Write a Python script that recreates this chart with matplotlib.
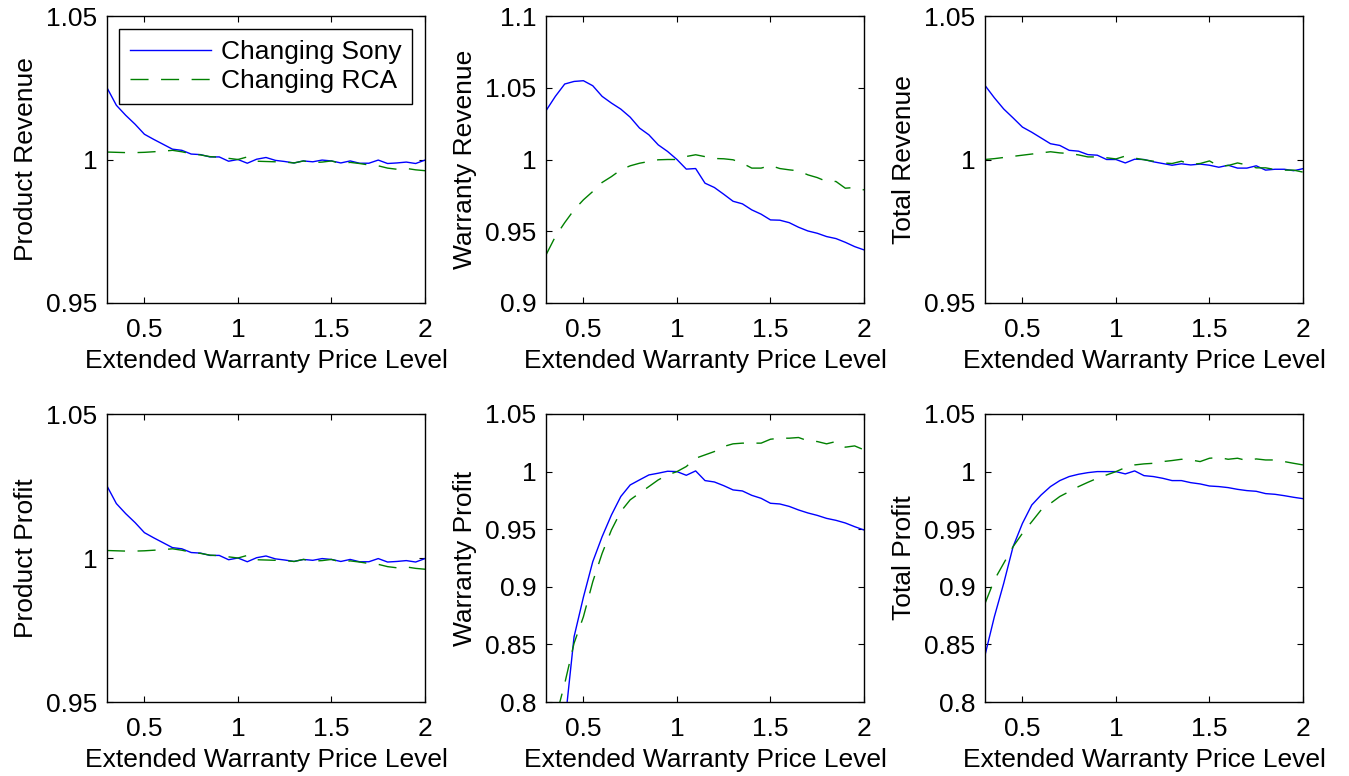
"""Six-panel comparison of revenue and profit against the extended warranty price level."""

import matplotlib

matplotlib.use("Agg")
import matplotlib.pyplot as plt
import numpy as np
from matplotlib.ticker import FuncFormatter

plt.rcParams["font.family"] = ["Liberation Sans", "DejaVu Sans"]

price_level = np.round(np.arange(0.30, 2.001, 0.05), 2)

product_revenue_sony = [
    1.0250, 1.0189, 1.0154, 1.0123, 1.0088, 1.0070, 1.0053, 1.0036, 1.0032, 1.0019,
    1.0017, 1.0009, 1.0009, 0.9994, 1.0000, 0.9987, 1.0001, 1.0007, 0.9997, 0.9993,
    0.9988, 0.9995, 0.9992, 0.9998, 0.9995, 0.9988, 0.9995, 0.9987, 0.9987, 0.9998,
    0.9986, 0.9988, 0.9991, 0.9986, 0.9998,
]
product_revenue_rca = [
    1.0026, 1.0025, 1.0024, 1.0024, 1.0025, 1.0027, 1.0029, 1.0032, 1.0027, 1.0020,
    1.0016, 1.0010, 1.0008, 1.0004, 1.0000, 1.0009, 0.9994, 0.9993, 0.9992, 0.9991,
    0.9988, 0.9995, 0.9989, 0.9991, 0.9995, 0.9986, 0.9990, 0.9986, 0.9981, 0.9978,
    0.9970, 0.9966, 0.9969, 0.9964, 0.9961,
]

warranty_revenue_sony = [
    1.0340, 1.0440, 1.0526, 1.0544, 1.0549, 1.0514, 1.0440, 1.0393, 1.0351, 1.0295,
    1.0219, 1.0172, 1.0102, 1.0056, 1.0000, 0.9933, 0.9937, 0.9835, 0.9805, 0.9758,
    0.9709, 0.9691, 0.9649, 0.9619, 0.9579, 0.9577, 0.9560, 0.9528, 0.9502, 0.9486,
    0.9463, 0.9449, 0.9423, 0.9393, 0.9370,
]
warranty_revenue_rca = [
    0.9335, 0.9463, 0.9560, 0.9649, 0.9719, 0.9777, 0.9840, 0.9881, 0.9928, 0.9956,
    0.9974, 0.9986, 0.9998, 1.0000, 1.0000, 1.0021, 1.0033, 1.0020, 1.0007, 1.0005,
    0.9998, 0.9974, 0.9940, 0.9940, 0.9958, 0.9937, 0.9928, 0.9921, 0.9893, 0.9874,
    0.9847, 0.9847, 0.9800, 0.9805, 0.9788,
]

total_revenue_sony = [
    1.0258, 1.0215, 1.0176, 1.0145, 1.0113, 1.0095, 1.0075, 1.0055, 1.0049, 1.0032,
    1.0029, 1.0017, 1.0015, 1.0000, 1.0000, 0.9988, 1.0001, 1.0000, 0.9992, 0.9986,
    0.9980, 0.9985, 0.9981, 0.9984, 0.9980, 0.9973, 0.9980, 0.9970, 0.9970, 0.9978,
    0.9963, 0.9966, 0.9966, 0.9961, 0.9968,
]
total_revenue_rca = [
    1.0000, 1.0003, 1.0007, 1.0011, 1.0015, 1.0019, 1.0023, 1.0027, 1.0023, 1.0021,
    1.0016, 1.0009, 1.0009, 1.0006, 1.0002, 1.0012, 1.0005, 0.9999, 0.9994, 0.9988,
    0.9986, 0.9994, 0.9983, 0.9986, 0.9995, 0.9977, 0.9979, 0.9988, 0.9981, 0.9971,
    0.9971, 0.9965, 0.9963, 0.9963, 0.9956,
]

# product profit tracks product revenue exactly in the source figure
product_profit_sony = list(product_revenue_sony)
product_profit_rca = list(product_revenue_rca)

warranty_profit_sony = [
    0.6200, 0.7000, 0.7800, 0.8566, 0.8910, 0.9218, 0.9435, 0.9624, 0.9784, 0.9884,
    0.9928, 0.9971, 0.9986, 1.0003, 1.0000, 0.9968, 1.0006, 0.9922, 0.9910, 0.9878,
    0.9841, 0.9832, 0.9794, 0.9768, 0.9725, 0.9719, 0.9698, 0.9667, 0.9641, 0.9620,
    0.9594, 0.9577, 0.9554, 0.9522, 0.9493,
]
warranty_profit_rca = [
    0.7400, 0.7850, 0.8160, 0.8510, 0.8740, 0.9044, 0.9290, 0.9494, 0.9654, 0.9755,
    0.9813, 0.9870, 0.9928, 0.9971, 1.0000, 1.0044, 1.0116, 1.0145, 1.0174, 1.0218,
    1.0241, 1.0247, 1.0247, 1.0247, 1.0281, 1.0290, 1.0290, 1.0296, 1.0267, 1.0261,
    1.0241, 1.0261, 1.0212, 1.0223, 1.0189,
]

total_profit_sony = [
    0.8406, 0.8740, 0.9030, 0.9348, 0.9550, 0.9710, 0.9797, 0.9870, 0.9922, 0.9957,
    0.9977, 0.9991, 1.0000, 1.0000, 1.0000, 0.9980, 1.0006, 0.9965, 0.9957, 0.9942,
    0.9922, 0.9922, 0.9904, 0.9893, 0.9875, 0.9870, 0.9861, 0.9846, 0.9835, 0.9829,
    0.9809, 0.9803, 0.9791, 0.9777, 0.9765,
]
total_profit_rca = [
    0.8855, 0.9060, 0.9204, 0.9348, 0.9464, 0.9565, 0.9667, 0.9724, 0.9784, 0.9826,
    0.9870, 0.9907, 0.9942, 0.9971, 1.0000, 1.0035, 1.0058, 1.0067, 1.0072, 1.0087,
    1.0096, 1.0107, 1.0101, 1.0087, 1.0116, 1.0122, 1.0107, 1.0116, 1.0096, 1.0110,
    1.0101, 1.0101, 1.0087, 1.0072, 1.0058,
]

PANELS = [
    ("Product Revenue", product_revenue_sony, product_revenue_rca, (0.95, 1.05), [0.95, 1.0, 1.05]),
    ("Warranty Revenue", warranty_revenue_sony, warranty_revenue_rca, (0.9, 1.1), [0.9, 0.95, 1.0, 1.05, 1.1]),
    ("Total Revenue", total_revenue_sony, total_revenue_rca, (0.95, 1.05), [0.95, 1.0, 1.05]),
    ("Product Profit", product_profit_sony, product_profit_rca, (0.95, 1.05), [0.95, 1.0, 1.05]),
    ("Warranty Profit", warranty_profit_sony, warranty_profit_rca, (0.8, 1.05), [0.8, 0.85, 0.9, 0.95, 1.0, 1.05]),
    ("Total Profit", total_profit_sony, total_profit_rca, (0.8, 1.05), [0.8, 0.85, 0.9, 0.95, 1.0, 1.05]),
]

X_TICKS = [0.5, 1.0, 1.5, 2.0]
LEFTS = [107, 546, 985]
ROWS = [(16, 303), (414, 702)]
W, H = 1349, 776
FS = 19


def main() -> None:
    fig = plt.figure(figsize=(W / 100, H / 100), dpi=100)
    fmt = FuncFormatter(lambda v, _: f"{v:g}")
    for i, (ylabel, sony, rca, ylim, yticks) in enumerate(PANELS):
        top, bottom = ROWS[i // 3]
        left = LEFTS[i % 3]
        ax = fig.add_axes([left / W, 1 - bottom / H, 318 / W, (bottom - top) / H])
        ax.plot(price_level, sony, color=(0, 0, 1), lw=1.0, label="Changing Sony")
        ax.plot(price_level, rca, color=(0, 0.5, 0), lw=1.0, dashes=(13, 9), label="Changing RCA")
        ax.set_xlim(0.3, 2.0)
        ax.set_ylim(*ylim)
        ax.set_xticks(X_TICKS)
        ax.set_yticks(yticks)
        ax.xaxis.set_major_formatter(fmt)
        ax.yaxis.set_major_formatter(fmt)
        ax.tick_params(direction="in", top=True, right=True, length=4, width=0.8, labelsize=FS)
        ax.tick_params(axis="x", pad=11)
        ax.tick_params(axis="y", pad=7)
        for sp in ax.spines.values():
            sp.set_linewidth(1.0)
        ax.set_xlabel("Extended Warranty Price Level", fontsize=FS, labelpad=5)
        ax.set_ylabel(ylabel, fontsize=FS, labelpad=6)
        if i == 0:
            ax.legend(loc="upper right", fontsize=FS, fancybox=False, edgecolor="black",
                      framealpha=1, handlelength=3.1, handletextpad=0.35,
                      borderaxespad=0.5, borderpad=0.4, labelspacing=0.2)
    fig.savefig("out.png", dpi=100)
    plt.close(fig)


if __name__ == "__main__":
    main()
